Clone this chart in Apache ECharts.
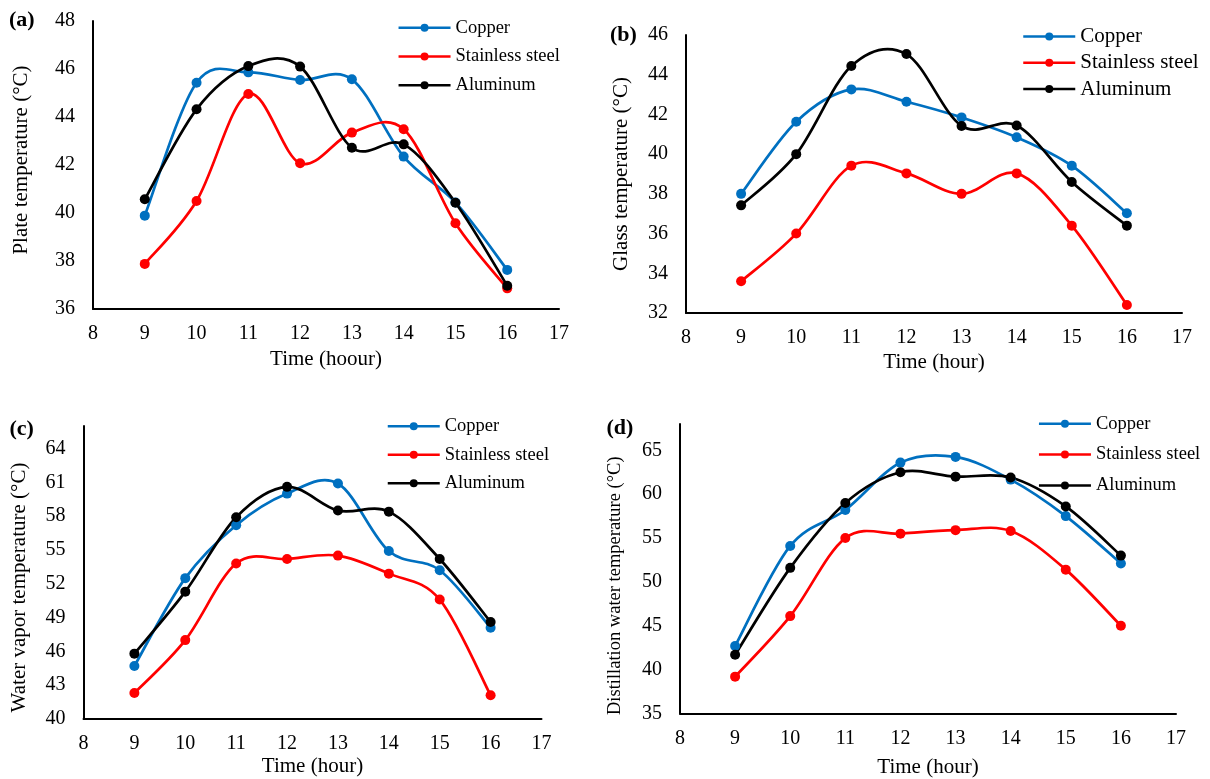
<!DOCTYPE html>
<html>
<head>
<meta charset="utf-8">
<script src="https://cdn.jsdelivr.net/npm/echarts@6/dist/echarts.min.js"></script>
<style>
html,body{margin:0;padding:0;background:#fff;}
#c{width:1210px;height:779px;}
</style>
</head>
<body>
<div id="c"></div>
<script>
// ---- data ----
const hours = [9, 10, 11, 12, 13, 14, 15, 16];
const seriesNames = ['Copper', 'Stainless steel', 'Aluminum'];

const plateCopper = [39.89, 45.43, 45.86, 45.54, 45.57, 42.35, 40.44, 37.63];
const plateSteel  = [37.88, 40.5, 44.96, 42.07, 43.35, 43.49, 39.57, 36.86];
const plateAlum   = [40.57, 44.32, 46.12, 46.1, 42.72, 42.86, 40.43, 36.97];

const glassCopper = [38.0, 41.63, 43.26, 42.64, 41.85, 40.85, 39.42, 37.02];
const glassSteel  = [33.6, 36.0, 39.42, 39.03, 38.0, 39.03, 36.4, 32.4];
const glassAlum   = [37.42, 40.0, 44.44, 45.04, 41.42, 41.44, 38.6, 36.4];

const vaporCopper = [44.7, 52.5, 57.2, 60.0, 60.9, 54.9, 53.2, 48.1];
const vaporSteel  = [42.3, 47.0, 53.8, 54.2, 54.5, 52.9, 50.6, 42.1];
const vaporAlum   = [45.8, 51.3, 57.9, 60.6, 58.5, 58.4, 54.2, 48.6];

const distCopper = [42.7, 54.1, 58.2, 63.6, 64.25, 61.66, 57.5, 52.1];
const distSteel  = [39.2, 46.1, 55.0, 55.5, 55.9, 55.8, 51.4, 45.0];
const distAlum   = [41.7, 51.6, 59.0, 62.5, 62.0, 61.9, 58.6, 53.0];

const panelLabels = ['(a)', '(b)', '(c)', '(d)'];
const xTitles = ['Time (hoour)', 'Time (hour)', 'Time (hour)', 'Time (hour)'];
const yTitles = ['Plate temperature (°C)', 'Glass temperature (°C)', 'Water vapor temperature (°C)', 'Distillation water temperature (°C)'];
const yMin = [36, 32, 40, 35];
const yMax = [48, 46, 66, 68];
const yStep = [2, 2, 3, 5];
const xMin = 8, xMax = 17, xStep = 1;

const panelData = [
  [plateCopper, plateSteel, plateAlum],
  [glassCopper, glassSteel, glassAlum],
  [vaporCopper, vaporSteel, vaporAlum],
  [distCopper, distSteel, distAlum]
];
// ---- styling / layout ----
const colors = ['#0070C0', '#FF0000', '#000000'];
const FONT = 'Liberation Serif';
const LW = 2.7;
const grids = [
  {left: 93, top: 21, width: 466, height: 288},
  {left: 686, top: 35, width: 496, height: 278},
  {left: 83.5, top: 426, width: 458, height: 293},
  {left: 680, top: 424, width: 496, height: 290}
];
const xNameGap = [40, 38.5, 37, 43.5];
const yNameGap = [61.5, 54.5, 54, 55];
const yNameFont = [21, 21, 21, 18.5];
const yNamePad = [[0,0,0,10],[0,0,0,0],[0,30,0,0],[0,34,0,0]];
const legendPos = [
  {left: 397.3, top: 18.3, gap: 9.7, font: 18.5, lh: 18},
  {left: 1022, top: 26, gap: 5.3, font: 21, lh: 20},
  {left: 386.5, top: 416.7, gap: 9.5, font: 18.5, lh: 18},
  {left: 1037.7, top: 414.3, gap: 11.8, font: 18.5, lh: 18}
];
const labelPos = [
  {left: 9, top: 9}, {left: 610, top: 24}, {left: 9.5, top: 418}, {left: 606.5, top: 417}
];

const option = {
  animation: false,
  backgroundColor: '#fff',
  title: panelLabels.map((t, i) => ({
    text: t, left: labelPos[i].left, top: labelPos[i].top, padding: 0,
    textStyle: {fontFamily: FONT, fontWeight: 'bold', fontSize: 22, lineHeight: 22, color: '#000'}
  })),
  legend: legendPos.map(p => ({
    data: seriesNames, orient: 'vertical', left: p.left, top: p.top, padding: 0,
    itemWidth: 52, itemHeight: 10, itemGap: p.gap, selectedMode: false,
    lineStyle: {width: 2.5, opacity: 1},
    textStyle: {fontFamily: FONT, fontSize: p.font, lineHeight: p.lh, color: '#000', padding: [0,0,0,0]}
  })),
  grid: grids.map(g => Object.assign({containLabel: false}, g)),
  xAxis: grids.map((g, i) => ({
    gridIndex: i, type: 'value', min: xMin, max: xMax, interval: xStep,
    name: xTitles[i], nameLocation: 'middle', nameGap: xNameGap[i],
    nameTextStyle: {fontFamily: FONT, fontSize: 21, color: '#000'},
    axisLine: {show: true, onZero: false, lineStyle: {color: '#000', width: 2}},
    axisTick: {show: false}, splitLine: {show: false},
    axisLabel: {fontFamily: FONT, fontSize: 20, color: '#000', margin: 15}
  })),
  yAxis: grids.map((g, i) => ({
    gridIndex: i, type: 'value', min: yMin[i], max: yMax[i], interval: yStep[i],
    name: yTitles[i], nameLocation: 'middle', nameGap: yNameGap[i], nameRotate: 90,
    nameTextStyle: {fontFamily: FONT, fontSize: yNameFont[i], color: '#000', padding: yNamePad[i]},
    axisLine: {show: true, lineStyle: {color: '#000', width: 2}},
    axisTick: {show: false}, splitLine: {show: false},
    axisLabel: {
      fontFamily: FONT, fontSize: 20, color: '#000', margin: 18,
      formatter: v => (Math.abs(((v - yMin[i]) / yStep[i]) - Math.round((v - yMin[i]) / yStep[i])) < 1e-6 ? String(v) : '')
    }
  })),
  series: []
};

// Smooth curve (Catmull-Rom style, like spreadsheet smoothed lines) drawn through the axis scales
function makeCurveRenderer(vals, color) {
  return function (params, api) {
    const i = params.dataIndex;
    const n = vals.length;
    if (i >= n - 1) return null;
    const P = j => api.coord([hours[Math.max(0, Math.min(n - 1, j))], vals[Math.max(0, Math.min(n - 1, j))]]);
    const p0 = P(i - 1), p1 = P(i), p2 = P(i + 1), p3 = P(i + 2);
    const t = 1 / 6;
    return {
      type: 'bezierCurve',
      shape: {
        x1: p1[0], y1: p1[1], x2: p2[0], y2: p2[1],
        cpx1: p1[0] + (p2[0] - p0[0]) * t, cpy1: p1[1] + (p2[1] - p0[1]) * t,
        cpx2: p2[0] - (p3[0] - p1[0]) * t, cpy2: p2[1] - (p3[1] - p1[1]) * t
      },
      style: {stroke: color, lineWidth: LW, fill: null, lineCap: 'round'},
      silent: true
    };
  };
}

panelData.forEach((set, gi) => {
  set.forEach((vals, si) => {
    option.series.push({
      name: seriesNames[si] + ' curve ' + gi, type: 'custom', xAxisIndex: gi, yAxisIndex: gi,
      data: hours.map((h, k) => [h, vals[k]]),
      renderItem: makeCurveRenderer(vals, colors[si]),
      encode: {x: 0, y: 1}, clip: false, z: 2
    });
    option.series.push({
      name: seriesNames[si], type: 'line', xAxisIndex: gi, yAxisIndex: gi,
      data: hours.map((h, k) => [h, vals[k]]),
      symbol: 'circle', symbolSize: 10, showSymbol: true,
      itemStyle: {color: colors[si]},
      lineStyle: {color: colors[si], width: LW, opacity: 0},
      emphasis: {disabled: true}, z: 3
    });
  });
});

const chart = echarts.init(document.getElementById('c'), null, {renderer: 'canvas'});
chart.setOption(option);
</script>
</body>
</html>
